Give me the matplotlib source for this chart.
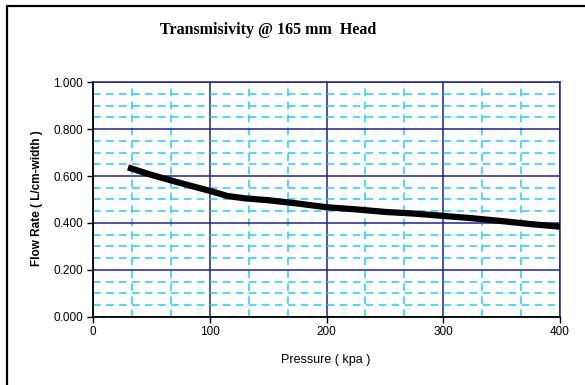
import matplotlib
matplotlib.use("Agg")
import matplotlib.pyplot as plt
from matplotlib.patches import Rectangle
from matplotlib.ticker import MultipleLocator, FormatStrFormatter

# pressure (kpa) vs flow rate (L/cm-width)
pressure = [30, 50, 75, 100, 115, 130, 150, 175, 200, 225, 250, 275, 300, 325, 350, 375, 400]
flow_rate = [0.637, 0.605, 0.570, 0.537, 0.515, 0.505, 0.497, 0.483, 0.467,
             0.458, 0.447, 0.440, 0.430, 0.420, 0.408, 0.395, 0.384]

title = "Transmisivity @ 165 mm  Head"
xlabel = "Pressure ( kpa )"
ylabel = "Flow Rate ( L/cm-width )"

fig = plt.figure(figsize=(5.85, 3.85), dpi=100)
fig.patch.set_facecolor("white")

# outer chart frame (runs off the right/bottom of the image)
fig.patches.append(Rectangle((7 / 585, -0.1), 1.2, 1 - 6 / 385 + 0.1,
                             transform=fig.transFigure, fill=False,
                             edgecolor="black", linewidth=1.6))

ax = fig.add_axes([93 / 585, (385 - 316.7) / 385, 467 / 585, 234.4 / 385])

ax.set_xlim(0, 400)
ax.set_ylim(0, 1.0)
ax.xaxis.set_major_locator(MultipleLocator(100))
ax.xaxis.set_minor_locator(MultipleLocator(100 / 3))
ax.yaxis.set_major_locator(MultipleLocator(0.2))
ax.yaxis.set_minor_locator(MultipleLocator(0.05))
ax.yaxis.set_major_formatter(FormatStrFormatter("%.3f"))

ax.grid(which="minor", color="#22ccff", linestyle=(0, (5, 3.5)), linewidth=1.1)
ax.grid(which="major", color="#202090", linestyle="-", linewidth=1.1)
ax.set_axisbelow(True)

ax.plot(pressure, flow_rate, color="black", linewidth=4.5, solid_capstyle="butt", zorder=5)

for s in ["top", "right"]:
    ax.spines[s].set_color("#202090")
    ax.spines[s].set_linewidth(1.1)
for s in ["left", "bottom"]:
    ax.spines[s].set_color("black")
    ax.spines[s].set_linewidth(1.3)

ax.tick_params(which="major", direction="out", length=4, width=1, labelsize=8.5,
               colors="black", pad=3)
ax.tick_params(which="minor", length=0)
for lbl in ax.get_xticklabels() + ax.get_yticklabels():
    lbl.set_family("Liberation Sans")

fig.text(268 / 585, 1 - 30 / 385, title, ha="center", va="center",
         fontsize=11.5, fontweight="bold", family="Liberation Serif")
fig.text(326 / 585, 1 - 360 / 385, xlabel, ha="center", va="center",
         fontsize=9, family="Liberation Sans")
fig.text(37 / 585, 1 - 198 / 385, ylabel, ha="center", va="center",
         rotation=90, fontsize=8.5, fontweight="bold", family="Liberation Sans")

fig.savefig("out.png", dpi=100)
